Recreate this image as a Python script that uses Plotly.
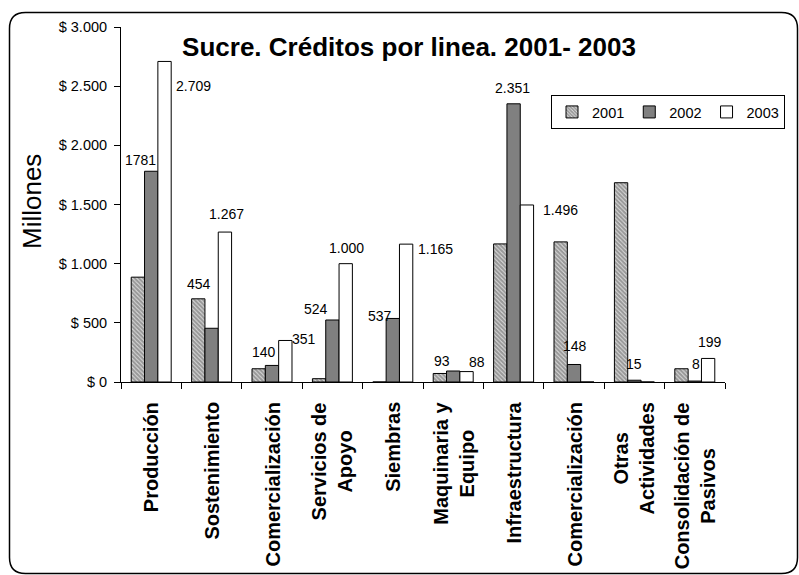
import plotly.graph_objects as go

# Líneas de crédito (categorías del eje X)
categorias = [
    "Producción",
    "Sostenimiento",
    "Comercialización",
    "Servicios de<br>Apoyo",
    "Siembras",
    "Maquinaria y<br>Equipo",
    "Infraestructura",
    "Comercialización",
    "Otras<br>Actividades",
    "Consolidación de<br>Pasivos",
]

# Créditos en millones de pesos por año
valores_2001 = [886, 703, 112, 28, 0, 72, 1167, 1184, 1684, 112]
valores_2002 = [1781, 454, 140, 524, 537, 93, 2351, 148, 15, 8]
valores_2003 = [2709, 1267, 351, 1000, 1165, 88, 1496, 0, 0, 199]

# Etiquetas de datos tal como se muestran
etiquetas_2002 = ["1781", "454", "140", "524", "537", "93", "2.351", "148", "15", "8"]
etiquetas_2003 = ["2.709", "1.267", "351", "1.000", "1.165", "88", "1.496", "", "", "199"]

# Eje Y
ticks_y = [0, 500, 1000, 1500, 2000, 2500, 3000]
ticks_y_texto = ["$ 0", "$ 500", "$ 1.000", "$ 1.500", "$ 2.000", "$ 2.500", "$ 3.000"]

titulo = "Sucre. Créditos por linea. 2001- 2003"
FUENTE = "Liberation Sans, Arial, sans-serif"

x = list(range(len(categorias)))

fig = go.Figure()
fig.add_trace(go.Bar(
    x=x, y=valores_2001, name="2001",
    marker=dict(color="white", line=dict(color="black", width=1),
                pattern=dict(shape="\\", fgcolor="#333333", bgcolor="white",
                             size=3, solidity=0.8)),
))
fig.add_trace(go.Bar(
    x=x, y=valores_2002, name="2002",
    marker=dict(color="#808080", line=dict(color="black", width=1)),
))
fig.add_trace(go.Bar(
    x=x, y=valores_2003, name="2003",
    marker=dict(color="white", line=dict(color="black", width=1)),
))

# Desplazamientos (px) de las etiquetas respecto al centro de la categoría y la cima de la barra
desp_2002 = [(-11, 11), (-13, 44), (-8, 13), (-16, 11), (-13, 2),
             (-11, 10), (-1, 16), (1, 18), (0, 16), (1, 17)]
desp_2003 = [(42, -25), (15, 18), (32, 1), (14, 16), (43, -5),
             (24, 10), (47, -5), (0, 0), (0, 0), (15, 16)]

anotaciones = []
for valores, etiquetas, desp in ((valores_2002, etiquetas_2002, desp_2002),
                                 (valores_2003, etiquetas_2003, desp_2003)):
    for i, (v, t, (dx, dy)) in enumerate(zip(valores, etiquetas, desp)):
        if not t:
            continue
        anotaciones.append(dict(
            x=i, y=v, xref="x", yref="y", text=t, showarrow=False,
            xshift=dx, yshift=dy, xanchor="center", yanchor="middle",
            font=dict(family=FUENTE, size=14, color="black"),
        ))

# Geometría del área de trazado (px)
W, H = 799, 575
ML, MR, MT, MB = 121, 74, 27, 193
PW, PH = W - ML - MR, H - MT - MB


def px_x(px):
    return (px - ML) / PW


def px_y(py):
    return (H - MB - py) / PH


# Nombres de las categorías, girados y centrados
for i, c in enumerate(categorias):
    anotaciones.append(dict(
        x=i, y=px_y(400), xref="x", yref="paper", text=c, showarrow=False,
        textangle=-90, xanchor="center", yanchor="top", align="center",
        font=dict(family=FUENTE, size=20, color="black", weight="bold"),
    ))

# Título del eje Y
anotaciones.append(dict(
    x=px_x(32), y=px_y(202), xref="paper", yref="paper", text="Millones",
    showarrow=False, textangle=-90, xanchor="center", yanchor="middle",
    font=dict(family=FUENTE, size=26, color="black"),
))

# Marco redondeado del gráfico
x0, y0, x1, y1, r = 9.5, 12.5, 797.5, 573.5, 16
rx = r / PW
ry = r / PH
X0, X1 = px_x(x0), px_x(x1)
Y0, Y1 = px_y(y0), px_y(y1)
marco = (
    f"M {X0 + rx},{Y0} L {X1 - rx},{Y0} Q {X1},{Y0} {X1},{Y0 - ry} "
    f"L {X1},{Y1 + ry} Q {X1},{Y1} {X1 - rx},{Y1} "
    f"L {X0 + rx},{Y1} Q {X0},{Y1} {X0},{Y1 + ry} "
    f"L {X0},{Y0 - ry} Q {X0},{Y0} {X0 + rx},{Y0} Z"
)

fig.update_layout(
    width=W, height=H,
    margin=dict(l=ML, r=MR, t=MT, b=MB, autoexpand=False),
    paper_bgcolor="white", plot_bgcolor="white",
    barmode="group", bargap=0.338, bargroupgap=0,
    font=dict(family=FUENTE, color="black"),
    title=dict(text=f"<b>{titulo}</b>", x=409 / W, xref="container", xanchor="center",
               y=1 - 47 / H, yref="container", yanchor="middle",
               font=dict(family=FUENTE, size=26, color="black")),
    xaxis=dict(range=[-0.5, len(categorias) - 0.5],
               tickvals=[i - 0.5 for i in range(len(categorias) + 1)],
               ticktext=[""] * (len(categorias) + 1),
               ticks="outside", ticklen=6, tickcolor="black",
               showline=True, linecolor="black", linewidth=1,
               showgrid=False, zeroline=False, fixedrange=True),
    yaxis=dict(range=[0, 3000], tickvals=ticks_y, ticktext=ticks_y_texto,
               ticks="outside", ticklen=6, tickcolor="black",
               ticklabelstandoff=4,
               tickfont=dict(family=FUENTE, size=14.5, color="black"),
               showline=True, linecolor="black", linewidth=1,
               showgrid=False, zeroline=False, fixedrange=True),
    legend=dict(orientation="h", x=px_x(785), y=px_y(95), xanchor="right", yanchor="top",
                bordercolor="black", borderwidth=1, bgcolor="white",
                font=dict(family=FUENTE, size=14.5, color="black"),
                itemwidth=30, traceorder="normal", tracegroupgap=0),
    annotations=anotaciones,
    shapes=[dict(type="path", path=marco, xref="paper", yref="paper",
                 line=dict(color="black", width=1.5), layer="above")],
)

fig.write_html("out.html")
